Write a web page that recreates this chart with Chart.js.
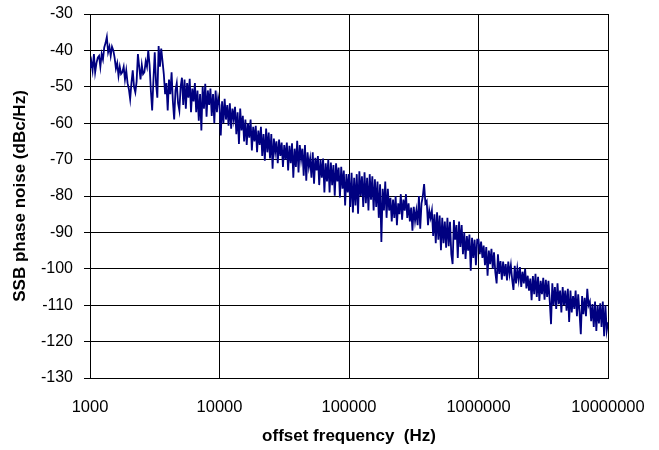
<!DOCTYPE html>
<html>
<head>
<meta charset="utf-8">
<script src="https://cdn.jsdelivr.net/npm/chart.js@4.4.1/dist/chart.umd.min.js"></script>
<style>
  body { margin: 0; background: #fff; }
</style>
</head>
<body>
<canvas id="noiseChart" width="659" height="450"></canvas>
<script>
// frequency grid: 100 steps per decade (mantissa), one decade per array below
const steps = [
  1.000, 1.023, 1.047, 1.072, 1.096, 1.122, 1.148, 1.175, 1.202, 1.230,
  1.259, 1.288, 1.318, 1.349, 1.380, 1.413, 1.445, 1.479, 1.514, 1.549,
  1.585, 1.622, 1.660, 1.698, 1.738, 1.778, 1.820, 1.862, 1.905, 1.950,
  1.995, 2.042, 2.089, 2.138, 2.188, 2.239, 2.291, 2.344, 2.399, 2.455,
  2.512, 2.570, 2.630, 2.692, 2.754, 2.818, 2.884, 2.951, 3.020, 3.090,
  3.162, 3.236, 3.311, 3.388, 3.467, 3.548, 3.631, 3.715, 3.802, 3.890,
  3.981, 4.074, 4.169, 4.266, 4.365, 4.467, 4.571, 4.677, 4.786, 4.898,
  5.012, 5.129, 5.248, 5.370, 5.495, 5.623, 5.754, 5.888, 6.026, 6.166,
  6.310, 6.457, 6.607, 6.761, 6.918, 7.079, 7.244, 7.413, 7.586, 7.762,
  7.943, 8.128, 8.318, 8.511, 8.710, 8.913, 9.120, 9.333, 9.550, 9.772,
  10.000
];
const decades = [1000, 10000, 100000, 1000000];

// SSB phase noise (dBc/Hz)
const noise1k = [
  -45, -43, -45.5, -41, -46, -43.5, -42, -41.5, -44.5, -41,
  -42.5, -39.2, -38, -36.3, -40.5, -39, -41.5, -39, -40, -42,
  -45, -43.5, -47, -44.5, -46.5, -46, -44.5, -48, -45.5, -49,
  -50.6, -53.4, -49, -45.5, -50, -51.5, -48.5, -41, -44.5, -48,
  -44, -46.5, -46, -43, -44.5, -40, -44, -51, -56.5, -48,
  -40.5, -49, -53, -38.8, -44.5, -39.5, -43, -46.5, -52, -49,
  -56.5, -48, -52, -46, -54, -59, -51, -49, -54.5, -56.5,
  -50, -47.5, -55, -48, -56, -49, -53, -47.8, -57, -50.5,
  -54, -49, -57, -51, -59.3, -52, -62, -50, -56, -49.2,
  -58.2, -51, -55, -50.5, -58, -52, -60, -51, -57, -53
];
const noise10k = [
  -55, -63.4, -54, -60, -53.3, -59, -55, -60.7, -54.5, -61.5,
  -56, -59, -55.5, -63, -57, -65.7, -56, -62, -58, -65,
  -59, -66, -60, -64, -59, -67.5, -61, -65, -60.7, -68,
  -62, -66, -61, -69, -63, -70.3, -61.5, -68, -62.6, -69.7,
  -63, -72.5, -64.2, -68, -65, -71, -64.5, -69, -65.3, -72,
  -66, -70, -65.3, -73, -66.2, -71, -65.5, -75, -67, -72,
  -64.8, -73.5, -66, -70, -67, -74.4, -66, -75.8, -68, -72,
  -69.7, -75, -68, -76.6, -69.5, -73, -69, -77, -70, -75,
  -69.7, -79, -71, -76, -70, -79, -70.8, -77, -71.5, -79.9,
  -71, -76, -72.2, -80.4, -72, -78, -73, -82.6, -74, -79
];
const noise100k = [
  -74, -83, -73.6, -84.5, -75, -82.6, -74, -84.9, -73.2, -80,
  -74.6, -83, -73.5, -82, -75, -84, -74, -81, -74.6, -84,
  -75.4, -83, -76, -86, -76.8, -92.6, -78, -84, -76, -86,
  -78, -84, -80.5, -87, -81, -86, -80, -88, -82, -85,
  -79.5, -86.5, -81, -84, -79.5, -86, -82, -87, -83.2, -89.5,
  -83, -86.8, -84, -88, -80, -89, -82, -80, -76.7, -82,
  -81.4, -88, -84, -86, -84, -91, -85, -93, -84.5, -92,
  -85.4, -94.9, -86, -93, -87, -94.2, -86, -93.8, -87.1, -96,
  -98.7, -86.6, -92, -88, -97, -87, -94, -88, -96, -90,
  -97.3, -91, -95, -90.6, -100.5, -91.5, -97, -92, -99, -92
];
const noise1M = [
  -92, -96, -92.5, -97, -93.6, -99, -94, -101.9, -95, -98.7,
  -94.5, -100, -95.5, -101, -104, -96, -101.4, -97.9, -103, -98,
  -102, -98.7, -103.2, -98, -101.5, -99, -103, -105.8, -99.2, -104,
  -100, -103, -99.5, -105, -100.8, -104, -100, -105.4, -101.9, -106,
  -102.7, -108.6, -102, -107, -101.4, -107.7, -102.2, -108.8, -103.3, -107,
  -102.5, -108.5, -103, -107.7, -103.3, -108.8, -115.2, -104, -110, -105,
  -111, -104, -109.7, -106, -112, -105, -110, -106, -111.5, -105.5,
  -114.6, -106, -112, -107.5, -111, -106, -113, -107, -112, -118,
  -107.5, -112.5, -108, -113, -105.5, -110, -109, -114.4, -109.7, -116,
  -109, -117.1, -110, -115, -109.5, -116, -109, -118.5, -110, -117,
  -114.7
];

const xTicks = [1000, 10000, 100000, 1000000, 10000000];

const points = [];
[noise1k, noise10k, noise100k, noise1M].forEach((vals, d) => {
  vals.forEach((v, i) => points.push({ x: decades[d] * steps[i], y: v }));
});

Chart.defaults.font.family = "'Liberation Sans', Arial, sans-serif";
Chart.defaults.color = '#000';

new Chart(document.getElementById('noiseChart'), {
  type: 'line',
  data: {
    datasets: [{
      data: points,
      borderColor: '#000080',
      borderWidth: 1.8,
      pointRadius: 0,
      tension: 0,
      fill: false
    }]
  },
  options: {
    responsive: false,
    animation: false,
    layout: { padding: { top: 14, right: 51, left: 0, bottom: 0 } },
    plugins: {
      legend: { display: false },
      tooltip: { enabled: false }
    },
    scales: {
      x: {
        type: 'logarithmic',
        min: 1000,
        max: 10000000,
        afterBuildTicks: (scale) => { scale.ticks = xTicks.map(v => ({ value: v })); },
        afterFit: (scale) => {
          scale.height = 72;
          scale.paddingLeft = 0;
          scale.paddingRight = 0;
        },
        ticks: {
          font: { size: 16.5 },
          padding: 20,
          maxRotation: 0,
          autoSkip: false,
          callback: (value) => String(value)
        },
        grid: { color: '#000', lineWidth: 1, drawTicks: false },
        border: { color: '#000', width: 1 },
        title: {
          display: true,
          text: 'offset frequency  (Hz)',
          font: { size: 17, weight: 'bold' },
          padding: { top: 0, bottom: 3 }
        }
      },
      y: {
        min: -130,
        max: -30,
        afterFit: (scale) => {
          scale.width = 90;
          scale.paddingTop = 0;
          scale.paddingBottom = 0;
        },
        ticks: {
          stepSize: 10,
          font: { size: 16 },
          padding: 11
        },
        grid: { color: '#000', lineWidth: 1, tickLength: 6 },
        border: { color: '#000', width: 1 },
        title: {
          display: true,
          text: 'SSB phase noise (dBc/Hz)',
          font: { size: 17, weight: 'bold' },
          padding: { top: 10, bottom: 0 }
        }
      }
    }
  }
});
</script>
</body>
</html>
